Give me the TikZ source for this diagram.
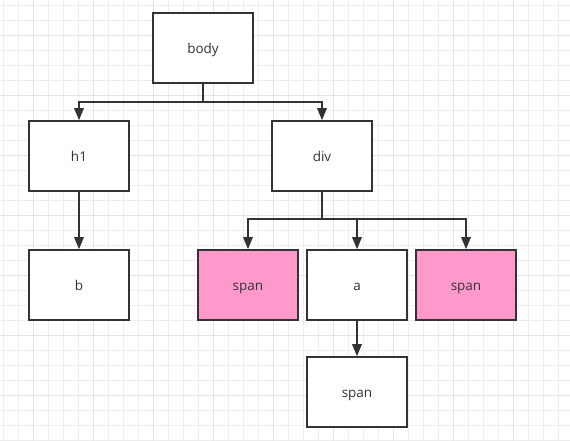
\documentclass[tikz,border=0pt]{standalone}
\usepackage{fontspec}
\setmainfont{Open Sans}
\usetikzlibrary{arrows.meta}
\definecolor{linegray}{HTML}{333333}
\definecolor{gridminor}{HTML}{EDEDED}
\definecolor{gridmajor}{HTML}{E2E2E2}
\definecolor{spanpink}{HTML}{FF99CC}
\tikzset{
  box/.style={draw=linegray, line width=1.6pt, fill=white, minimum width=100pt,
    minimum height=70pt, inner sep=0pt, text=linegray, text height=11.5pt, text depth=0.5pt,
    font=\fontsize{13.5}{16}\selectfont},
  pinkbox/.style={box, fill=spanpink},
  tree/.style={draw=linegray, line width=1.6pt, -{Triangle[length=12pt,width=9.5pt]}}
}
\begin{document}
\begin{tikzpicture}[x=1pt, y=-1pt]
    \useasboundingbox (0,0) rectangle (570,441);
    % grid
    \draw[gridminor, line width=0.8pt, xshift=3.3pt, yshift=-5pt] (-3.3,-5) grid[step=15pt] (570,441);
    \draw[gridmajor, line width=0.8pt, xshift=33.3pt, yshift=-35pt] (-33.3,-35) grid[step=60pt] (570,441);
    \node[box] (A0_1) at (203, 48) {body};
    \node[box] (A1_0) at (79, 156) {h1};
    \node[box] (A1_1) at (322, 156) {div};
    \node[box] (A2_0) at (79, 285) {b};
    \node[pinkbox] (A2_1) at (248, 285) {span};
    \node[box] (A2_2) at (357, 285) {a};
    \node[pinkbox] (A2_3) at (466, 285) {span};
    \node[box] (A3_2) at (357, 392) {span};
    \coordinate (J0) at (203, 102);
    \coordinate (J1) at (322, 219);
    \draw[tree] (A0_1.south) -- (J0) -| (A1_0.north);
    \draw[tree] (A0_1.south) -- (J0) -| (A1_1.north);
    \draw[tree] (A1_0.south) -- (A2_0.north);
    \draw[tree] (A1_1.south) -- (J1) -| (A2_1.north);
    \draw[tree] (A1_1.south) -- (J1) -| (A2_2.north);
    \draw[tree] (A1_1.south) -- (J1) -| (A2_3.north);
    \draw[tree] (A2_2.south) -- (A3_2.north);
\end{tikzpicture}
\end{document}
